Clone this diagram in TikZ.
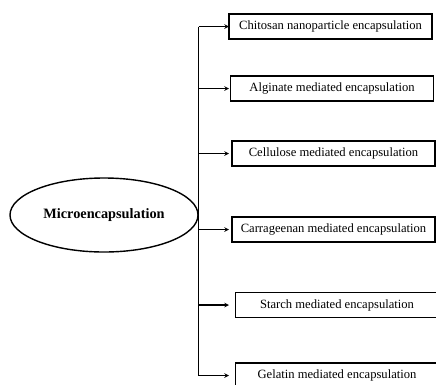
\documentclass[tikz,border=0pt]{standalone}
\usepackage{fontspec}
\setmainfont{Liberation Serif}
\usetikzlibrary{shapes.geometric}

\begin{document}
\begin{tikzpicture}[
        x=1pt, y=-1pt,
        method_block/.style={draw, rectangle, minimum width=203pt, minimum height=25pt, inner sep=2pt, align=center, line width=1.4pt, font=\fontsize{12.6}{14}\selectfont},
        main_block/.style={draw, ellipse, minimum width=188pt, minimum height=74pt, line width=1.4pt, font=\bfseries\fontsize{14.3}{16}\selectfont},
        arrow/.style={arrows={-stealth}, line width=1.1pt},
        trunk/.style={line width=1.1pt}
    ]
        \useasboundingbox (0,0) rectangle (436,384);

        % Main node
        \node (micro) at (104,215) [main_block] {Microencapsulation};

        % Encapsulation methods
        \node (chitosan) at (330.5,26.5) [method_block] {Chitosan nanoparticle encapsulation};
        \node (alginate) at (332,88.5) [method_block] {Alginate mediated encapsulation};
        \node (cellulose) at (333.5,153.5) [method_block] {Cellulose mediated encapsulation};
        \node (carrageenan) at (333.5,229.5) [method_block] {Carrageenan mediated encapsulation};
        \node (starch) at (337,305) [method_block] {Starch mediated encapsulation};
        \node (gelatin) at (337,375.5) [method_block] {Gelatin mediated encapsulation};

        \coordinate (tip) at (229,0);

        % Connections
        \draw [trunk] (micro.east |- chitosan) -- (micro.east |- gelatin);
        \foreach \m in {chitosan, alginate, cellulose, carrageenan, starch, gelatin}
            \draw [arrow] (micro.east |- \m) -- (tip |- \m);

    \end{tikzpicture}
\end{document}
